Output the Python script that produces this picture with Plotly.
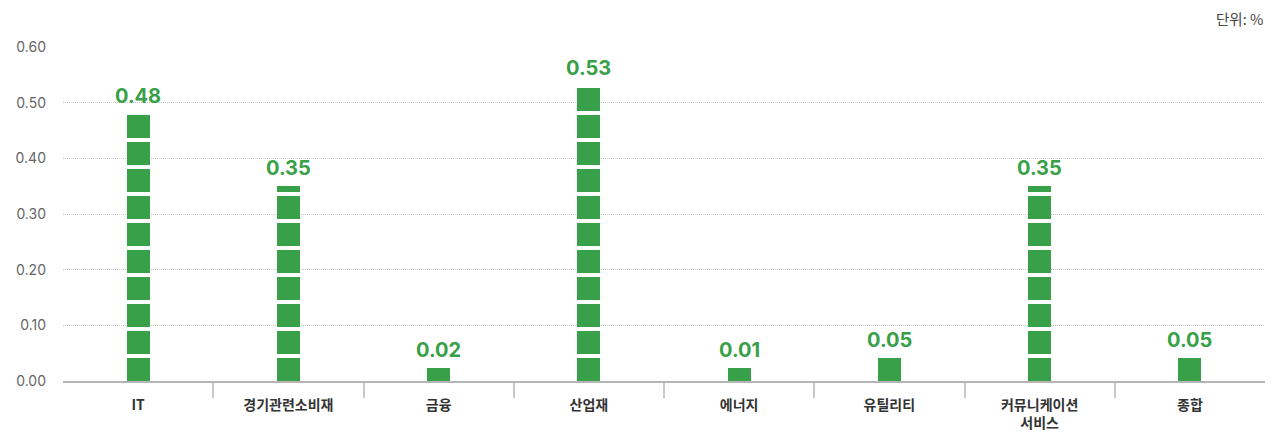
import plotly.graph_objects as go

categories = ["IT", "경기관련소비재", "금융", "산업재", "에너지", "유틸리티", "커뮤니케이션<br>서비스", "종합"]
values = [0.48, 0.35, 0.02, 0.53, 0.01, 0.05, 0.35, 0.05]
# drawn bar heights (small values are shown with a minimum symbol)
bar_heights = [0.48, 0.35, 0.024, 0.53, 0.024, 0.041, 0.35, 0.041]
y_ticks = [0.0, 0.1, 0.2, 0.3, 0.4, 0.5, 0.6]

GREEN = "#38a048"
PERIOD = 0.0485
SEG = 0.0408

x_idx = list(range(len(categories)))
fig = go.Figure()

n_seg = int(max(bar_heights) / PERIOD) + 1
for k in range(n_seg):
    base = k * PERIOD
    ys, bases = [], []
    for h in bar_heights:
        seg_h = max(0.0, min(SEG, h - base))
        ys.append(seg_h)
        bases.append(base)
    fig.add_trace(go.Bar(
        x=x_idx, y=ys, base=bases, width=0.153,
        marker=dict(color=GREEN, line=dict(width=0)),
        hoverinfo="skip", showlegend=False,
    ))

for i, (v, h) in enumerate(zip(values, bar_heights)):
    fig.add_annotation(
        x=i, y=h, text=f"<b>{v:.2f}</b>", showarrow=False,
        yanchor="bottom", yshift=4,
        font=dict(size=20, color=GREEN, family="Inter, Noto Sans CJK KR"),
    )

fig.add_annotation(
    x=1, y=1, xref="paper", yref="paper", xanchor="right", yanchor="bottom",
    yshift=16, text="단위: %", showarrow=False,
    font=dict(size=14.5, color="#444", family="Noto Sans CJK KR"),
)

fig.update_layout(
    width=1273, height=433,
    margin=dict(l=63, r=8, t=47, b=52, autoexpand=False),
    plot_bgcolor="white", paper_bgcolor="white",
    barmode="overlay", bargap=0,
    font=dict(family="Noto Sans CJK KR, Inter", color="#333"),
    xaxis=dict(
        automargin=False,
        range=[-0.5, len(categories) - 0.5],
        tickmode="array", tickvals=x_idx, ticktext=[f"<b>{c}</b>" for c in categories],
        ticks="", showgrid=False, zeroline=False,
        showline=True, linecolor="#b5b5b5", linewidth=1.5,
        tickfont=dict(size=14, color="#333", family="Noto Sans CJK KR"),
        ticklabelstandoff=10,
        minor=dict(tickmode="array", tickvals=[i + 0.5 for i in range(len(categories) - 1)],
                   ticks="outside", ticklen=15, tickcolor="#c8c8c8", tickwidth=1.5, showgrid=False),
    ),
    yaxis=dict(
        automargin=False,
        range=[0, 0.6], tickmode="array", tickvals=y_ticks,
        ticktext=[f"{t:.2f}" for t in y_ticks],
        showgrid=True, gridcolor="#c4c4c4", griddash="1px,1px", gridwidth=1,
        zeroline=False, showline=False, ticks="",
        tickfont=dict(size=14, color="#666", family="Inter, Noto Sans CJK KR"),
        ticklabelstandoff=16,
    ),
)

fig.write_html("out.html", config={"displayModeBar": False},
               post_script="document.body.style.margin='0';")
